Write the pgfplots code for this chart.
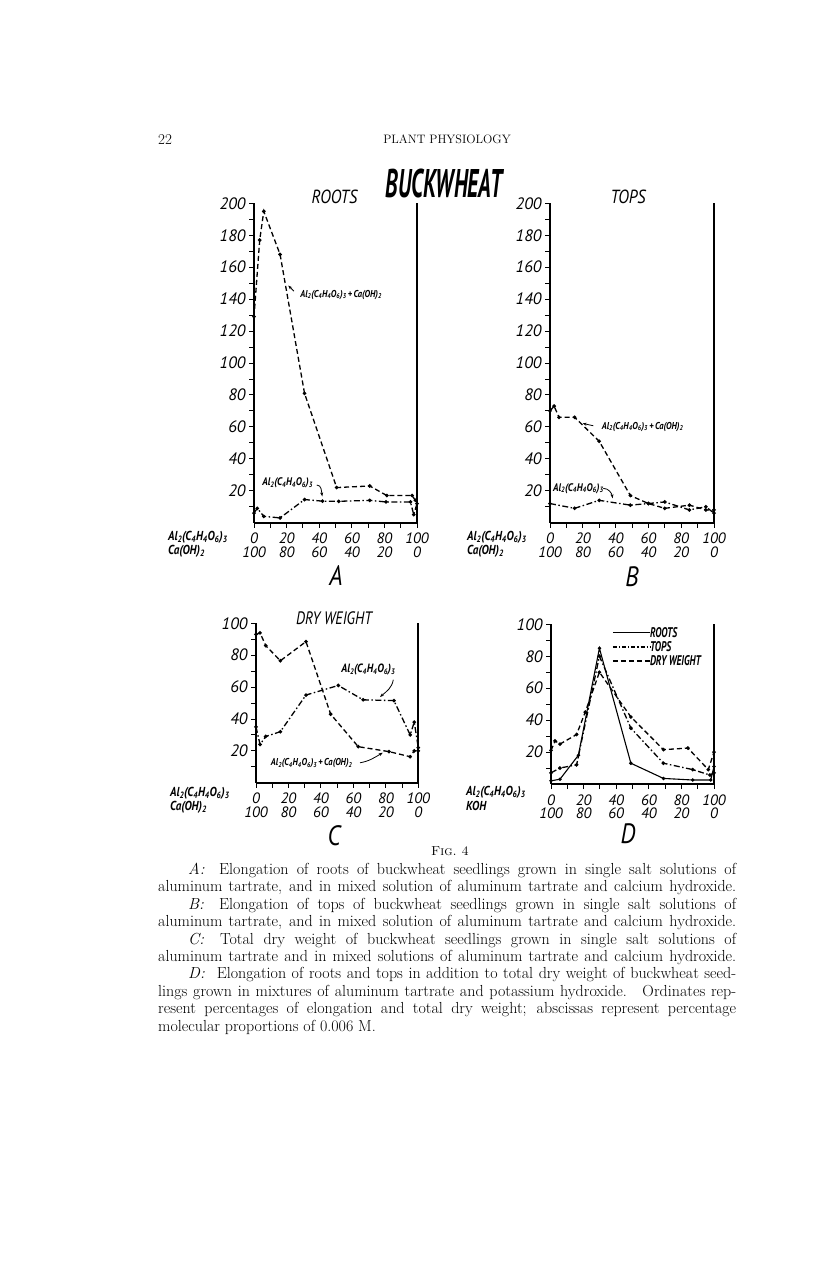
\documentclass[border=0pt]{standalone}
\usepackage{fontspec}
\usepackage{pgfplots}
\pgfplotsset{compat=1.18}
\usetikzlibrary{arrows.meta}
\newfontfamily\hand{PT Sans}

\newcommand{\alt}{Al\textsubscript{2}(C\textsubscript{4}H\textsubscript{4}O\textsubscript{6})\textsubscript{3}}
\newcommand{\caoh}{Ca(OH)\textsubscript{2}}
\newcommand{\fl}[1]{\hbox to 578pt{#1}}

\tikzset{
  ann/.style={font=\hand\itshape\bfseries\fontsize{#1}{#1}\selectfont, inner sep=0, xscale=0.85},
  arr/.style={-{Stealth[length=4pt,width=3pt]}, line width=0.8pt},
}
\pgfplotsset{
  panel/.style={
    scale only axis, axis x line*=bottom, axis y line*=box, ytick pos=left,
    xmin=0, xmax=100, ymin=0,
    axis line style={line width=2pt},
    tick style={line width=0.9pt, black},
    major tick length=5pt, minor tick length=5pt, tick align=outside,
    xtick={0,20,...,100}, minor xtick={10,30,...,90},
    xticklabels={{0\\100},{20\\80},{40\\60},{60\\40},{80\\20},{100\\0}},
    xticklabel style={font=\hand\itshape\fontsize{15}{13.5}\selectfont, align=center, yshift=-2pt},
    yticklabel style={font=\hand\itshape\fontsize{16.5}{16.5}\selectfont},
    /pgf/number format/assume math mode=true,
    clip=false,
  },
  dsh/.style={black, line width=1.3pt, dash pattern=on 5pt off 3pt, mark=*, mark size=1.1pt, mark options={solid}},
  dshdot/.style={black, line width=1.3pt, dash pattern=on 6pt off 2.5pt on 1.5pt off 2.5pt, mark=*, mark size=1.1pt, mark options={solid}},
  sld/.style={black, line width=1.1pt, mark=*, mark size=1.1pt},
}

\begin{document}
\begin{tikzpicture}
\fill[white] (0pt,0pt) rectangle (816pt,-1277pt);

% page header
\node[anchor=base west, inner sep=0, font=\fontsize{15}{15}\selectfont] at (158pt,-144pt) {22};
\node[anchor=base, inner sep=0, font=\fontsize{12.2}{12.2}\selectfont] at (447pt,-143pt) {PLANT PHYSIOLOGY};
\node[font=\hand\bfseries\itshape\fontsize{40}{40}\selectfont, xscale=0.55, inner sep=0] at (444pt,-183pt) {BUCKWHEAT};

% A: roots
\begin{axis}[panel, at={(254pt,-522.7pt)}, anchor=south west, width=163pt, height=319.4pt,
  ymax=200, ytick={20,40,...,200}, minor ytick={10,30,...,190}]
\addplot[dsh] coordinates {(0,129) (3.5,177) (6,195) (16,168) (31,81) (50.7,22) (71,23) (81.5,17) (97,17) (99,14)};
\addplot[dshdot] coordinates {(0,6) (2,9) (6,4) (16,3) (31,14.5) (42,13.5) (52,13.4) (71,14) (81,13) (96,13) (98,5) (100,12)};
\node[ann=10] at (axis cs:53.4,142.6) {\alt\,+\,\caoh};
\draw[arr] (axis cs:24.5,145) -- (axis cs:21,148.5);
\node[ann=11] at (axis cs:20.6,25) {\alt};
\draw[arr] (axis cs:38.5,23.6) to[out=0,in=100] (axis cs:41.9,16.5);
\node[font=\hand\itshape\fontsize{19}{19}\selectfont, xscale=0.85] at (axis cs:49.4,204) {ROOTS};
\end{axis}

% B: tops
\begin{axis}[panel, at={(550pt,-522.7pt)}, anchor=south west, width=164pt, height=319.4pt,
  ymax=200, ytick={20,40,...,200}, minor ytick={10,30,...,190}]
\addplot[dsh] coordinates {(0,70) (2.5,73) (5.5,66) (15,66) (30,51) (49,17) (60,12) (70,9) (85,11) (95,8) (100,8)};
\addplot[dshdot] coordinates {(0,12) (15,9) (30,14) (49,11) (60,12) (70,13) (85,8) (95,10) (100,6)};
\node[ann=10] at (axis cs:56.4,60.1) {\alt\,+\,\caoh};
\draw[arr] (axis cs:26.4,60.7) -- (axis cs:19.9,62.2);
\node[ann=11] at (axis cs:17.3,21.5) {\alt};
\draw[arr] (axis cs:32.5,21.5) to[out=0,in=100] (axis cs:38.2,15.3);
\node[font=\hand\itshape\fontsize{19}{19}\selectfont, xscale=0.85] at (axis cs:47.6,204) {TOPS};
\end{axis}

% C: dry weight
\begin{axis}[panel, at={(256pt,-782.7pt)}, anchor=south west, width=162.3pt, height=159.4pt,
  ymax=100, ytick={20,40,...,100}, minor ytick={10,30,...,90}]
\addplot[dsh] coordinates {(0,93) (2.5,94) (6,86) (15,76.5) (30.8,88.5) (46,43) (63,22.6) (82,19.5) (95,16.3) (97.5,20) (100,20)};
\addplot[dshdot] coordinates {(0,35) (2.5,24) (6,29) (15,32) (30.8,55) (50.7,61) (66,52) (85,51.5) (95,30) (97.5,38) (100,22)};
\node[ann=12] at (axis cs:69.2,70.8) {\alt};
\draw[arr] (axis cs:84.6,64.6) to[out=-100,in=40] (axis cs:76.4,53.8);
\node[ann=10] at (axis cs:34.3,12.2) {\alt\,+\,\caoh};
\draw[arr] (axis cs:64.1,12.5) to[out=10,in=-150] (axis cs:78.1,18.8);
\node[font=\hand\itshape\fontsize{18}{18}\selectfont, xscale=0.8] at (axis cs:48.1,103.5) {DRY WEIGHT};
\end{axis}

% D: KOH series
\begin{axis}[panel, at={(551pt,-784pt)}, anchor=south west, width=163pt, height=159.7pt,
  ymax=100, ytick={20,40,...,100}, minor ytick={10,30,...,90}]
\addplot[sld] coordinates {(0,2) (5.5,3) (16.8,18) (29.7,85) (49,13) (69,3.5) (87,2.5) (98,2.5) (100,11)};
\addplot[dshdot] coordinates {(0,7) (5.5,10) (15.7,12) (29.7,80) (49,35) (69,13) (87,9) (97.5,5.6) (100,7)};
\addplot[dsh] coordinates {(0,21) (2.5,27) (5.5,25) (15.7,31) (21,45) (29.7,70) (49,42) (69,21.5) (84,22.5) (96.5,9) (100,20)};
\draw[line width=1.1pt] (axis cs:38,94.6) -- (axis cs:60.7,94.6);
\draw[line width=1.1pt, dash pattern=on 4pt off 2pt on 1.2pt off 2pt] (axis cs:38,85.8) -- (axis cs:60.7,85.8);
\draw[line width=1.1pt, dash pattern=on 5pt off 3pt] (axis cs:38,77) -- (axis cs:60.7,77);
\node[ann=14, anchor=west, xscale=0.8] at (axis cs:60.7,94.6) {ROOTS};
\node[ann=14, anchor=west, xscale=0.8] at (axis cs:60.7,85.8) {TOPS};
\node[ann=14, anchor=west, xscale=0.8] at (axis cs:60.7,77) {DRY WEIGHT};
\end{axis}

% row labels under the axes
\begin{scope}[every node/.style={anchor=west, inner sep=0, font=\hand\itshape\bfseries\fontsize{13}{13}\selectfont, xscale=0.85}]
\node at (168pt,-537pt) {\alt};
\node at (168pt,-551pt) {\caoh};
\node at (467pt,-537pt) {\alt};
\node at (467pt,-551pt) {\caoh};
\node at (170pt,-793pt) {\alt};
\node at (170pt,-807pt) {\caoh};
\node at (466pt,-792pt) {\alt};
\node at (466pt,-806pt) {KOH};
\end{scope}

% panel letters
\begin{scope}[every node/.style={font=\hand\itshape\fontsize{28}{28}\selectfont, inner sep=0, xscale=0.85}]
\node at (336pt,-576pt) {A};
\node at (632pt,-577pt) {B};
\node at (334pt,-836pt) {C};
\node at (628pt,-834pt) {D};
\end{scope}

% figure label and caption
\node[anchor=base, inner sep=0, font=\fontsize{13}{13}\selectfont] at (450pt,-855pt) {\textsc{Fig.~4}};
\node[anchor=base west, inner sep=0] at (158pt,-874.5pt) {\parbox[t]{578pt}{\fontsize{16}{17.4}\selectfont
\fl{\hspace*{30pt}\textit{A:}\hspace{0.4em} Elongation of roots of buckwheat seedlings grown in single salt solutions of}
\fl{aluminum tartrate, and in mixed solution of aluminum tartrate and calcium hydroxide.}
\fl{\hspace*{30pt}\textit{B:}\hspace{0.4em} Elongation of tops of buckwheat seedlings grown in single salt solutions of}
\fl{aluminum tartrate, and in mixed solution of aluminum tartrate and calcium hydroxide.}
\fl{\hspace*{30pt}\textit{C:}\hspace{0.4em} Total dry weight of buckwheat seedlings grown in single salt solutions of}
\fl{aluminum tartrate and in mixed solutions of aluminum tartrate and calcium hydroxide.}
\fl{\hspace*{30pt}\textit{D:}\hspace{0.4em} Elongation of roots and tops in addition to total dry weight of buckwheat seed-}
\fl{lings grown in mixtures of aluminum tartrate and potassium hydroxide.\hspace{0.4em} Ordinates rep-}
\fl{resent percentages of elongation and total dry weight; abscissas represent percentage}
\hbox{molecular proportions of 0.006 M.}}};
\end{tikzpicture}
\end{document}
